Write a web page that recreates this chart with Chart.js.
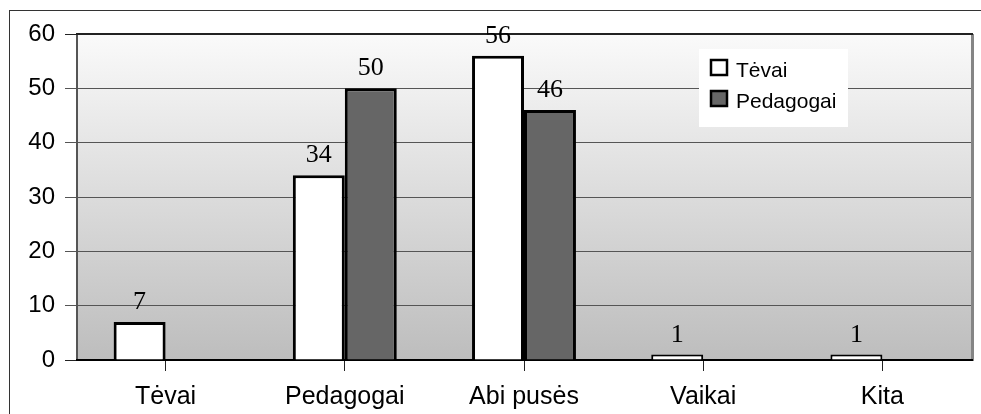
<!DOCTYPE html>
<html>
<head>
<meta charset="utf-8">
<script src="https://cdn.jsdelivr.net/npm/chart.js@4/dist/chart.umd.min.js"></script>
<style>
  html, body { margin: 0; padding: 0; background: #fff; }
  #wrap { width: 981px; height: 414px; position: relative; }
</style>
</head>
<body>
<div id="wrap"><canvas id="myChart" width="981" height="414"></canvas></div>
<script>
const categories = ['Tėvai', 'Pedagogai', 'Abi pusės', 'Vaikai', 'Kita'];
const tevaiValues = [7, 34, 56, 1, 1];
const pedagogaiValues = [null, 50, 46, null, null];
const yTicks = [0, 10, 20, 30, 40, 50, 60];

const ctx = document.getElementById('myChart');

// gray gradient behind the plot + outer frame
const backdrop = {
    id: 'backdrop',
    beforeDraw(chart) {
        const c = chart.ctx;
        const a = chart.chartArea;
        c.save();
        c.strokeStyle = '#333';
        c.lineWidth = 1;
        c.strokeRect(9.5, 10.5, 2000, 2000);
        const g = c.createLinearGradient(0, a.top, 0, a.bottom);
        g.addColorStop(0, '#fafafa');
        g.addColorStop(1, '#bdbdbd');
        c.fillStyle = g;
        c.fillRect(a.left, a.top, a.right - a.left, a.bottom - a.top);
        c.restore();
    },
    beforeDatasetsDraw(chart) {
        const c = chart.ctx;
        const a = chart.chartArea;
        c.save();
        c.fillStyle = '#555';
        c.fillRect(a.left, a.top, 2, a.bottom - a.top);
        c.fillStyle = '#858585';
        c.fillRect(a.right - 1, a.top, 3, a.bottom - a.top + 1);
        c.fillStyle = '#222';
        c.fillRect(a.left, a.top - 1, a.right - a.left + 1, 2);
        c.fillStyle = '#000';
        c.fillRect(a.left, a.bottom - 1, a.right - a.left + 1, 2);
        c.restore();
    }
};

// numbers above the bars
const valueLabels = {
    id: 'valueLabels',
    afterDatasetsDraw(chart) {
        const c = chart.ctx;
        c.save();
        c.font = '26px "Liberation Serif"';
        c.fillStyle = '#000';
        c.textAlign = 'center';
        c.textBaseline = 'alphabetic';
        chart.data.datasets.forEach((ds, i) => {
            chart.getDatasetMeta(i).data.forEach((bar, j) => {
                if (ds.data[j] == null) return;
                c.fillText(String(ds.data[j]), bar.x, bar.y - 13);
            });
        });
        c.restore();
    }
};

// legend box inside the plot
const boxLegend = {
    id: 'boxLegend',
    afterDraw(chart) {
        const c = chart.ctx;
        c.save();
        c.fillStyle = '#fff';
        c.fillRect(699, 49, 149, 78);
        c.font = '21px "Liberation Sans"';
        c.textBaseline = 'middle';
        c.textAlign = 'left';
        chart.data.datasets.forEach((ds, i) => {
            const y = 59 + i * 31;
            c.fillStyle = ds.backgroundColor;
            c.fillRect(711, y + 1, 16, 15);
            c.strokeStyle = '#000';
            c.lineWidth = 2.5;
            c.strokeRect(711, y + 1, 16, 15);
            c.fillStyle = '#000';
            c.fillText(ds.label, 736, y + 12);
        });
        c.restore();
    }
};

const barBorder = (c) => (c.raw != null && c.raw < 3) ? 2 : 3;

const myChart = new Chart(ctx, {
    type: 'bar',
    data: {
        labels: categories,
        datasets: [
            {
                label: 'Tėvai',
                data: tevaiValues,
                backgroundColor: '#ffffff',
                borderColor: '#000',
                borderWidth: barBorder,
                borderSkipped: 'start',
                barPercentage: 1,
                categoryPercentage: 0.58
            },
            {
                label: 'Pedagogai',
                data: pedagogaiValues,
                backgroundColor: '#666666',
                borderColor: '#000',
                borderWidth: barBorder,
                borderSkipped: 'start',
                barPercentage: 1,
                categoryPercentage: 0.58
            }
        ]
    },
    options: {
        responsive: false,
        animation: false,
        layout: { padding: { top: 34, right: 9, left: 0, bottom: 0 } },
        scales: {
            x: {
                grid: {
                    offset: false,
                    drawOnChartArea: false,
                    tickLength: 11,
                    color: '#222'
                },
                border: { display: false },
                ticks: {
                    color: '#000',
                    padding: 11,
                    font: { family: 'Liberation Sans', size: 25 }
                },
                afterFit(scale) { scale.height = 54; }
            },
            y: {
                min: 0,
                max: 60,
                afterBuildTicks(scale) {
                    scale.ticks = yTicks.map(v => ({ value: v }));
                },
                grid: {
                    tickLength: 11,
                    color: (c) => (c.tick && (c.tick.value === 0 || c.tick.value === 60)) ? '#222' : '#555'
                },
                border: { display: false },
                ticks: {
                    color: '#000',
                    padding: 10,
                    font: { family: 'Liberation Sans', size: 24 }
                },
                afterFit(scale) { scale.width = 76; }
            }
        },
        plugins: {
            legend: { display: false },
            tooltip: { enabled: false }
        }
    },
    plugins: [backdrop, valueLabels, boxLegend]
});
</script>
</body>
</html>
